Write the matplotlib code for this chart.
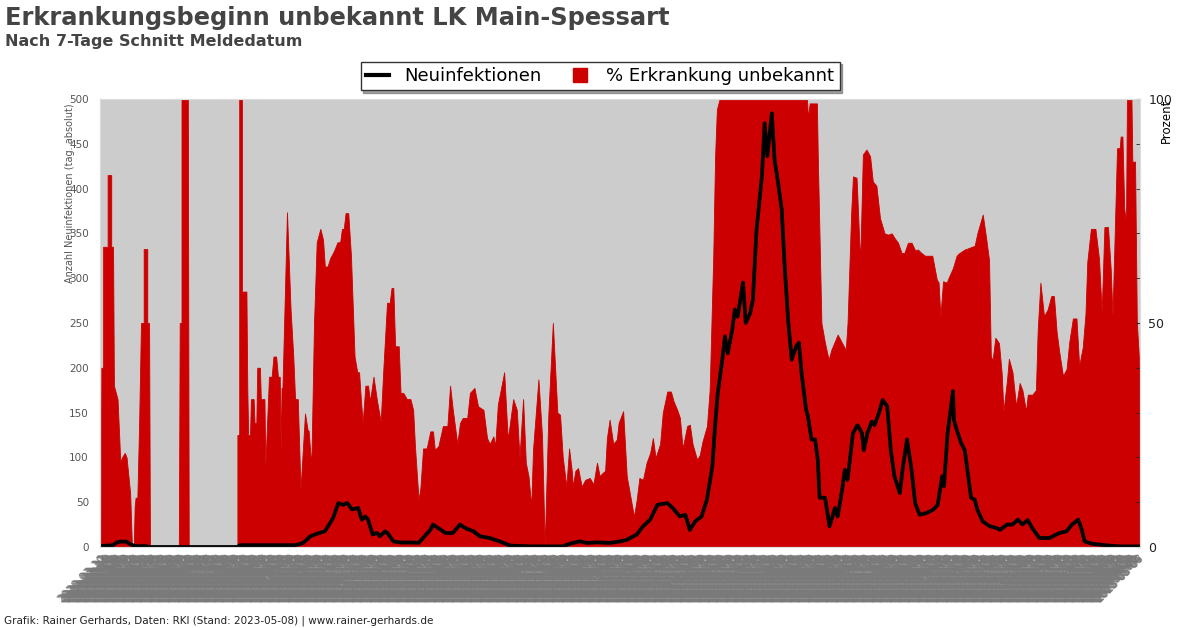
import pandas as pd
import matplotlib
matplotlib.use('Agg')
import matplotlib.pyplot as plt
from matplotlib.lines import Line2D

# Tage ab Startdatum
start = '2020-03-10'
n_days = 1154
dates = pd.date_range(start, periods=n_days).strftime('%Y-%m-%d')

# % Erkrankungsbeginn unbekannt (rechte Achse)
pct_day = [0, 1, 3, 3, 8, 8, 12, 12, 14, 15, 19, 21, 22, 24, 27, 29, 31, 33, 35,
           37, 38, 39, 41, 43, 45, 48, 48, 52, 52, 54, 55,
           87, 88, 90, 90, 97, 98,
           152, 152, 154, 154, 157, 157, 162, 163, 164, 166, 167, 170, 171, 173, 174,
           177, 178, 182, 183, 187, 190, 192, 195, 197, 199, 200, 201, 202, 207, 211,
           214, 216, 219, 222, 227, 230, 231, 234, 237, 240, 244, 247, 249, 252, 255,
           259, 263, 266, 268, 270, 272, 275, 278, 282, 285, 287, 289, 291, 294, 297,
           299, 303, 307, 311, 314, 318, 321, 323, 325, 327, 331, 333, 336, 340, 344,
           347, 349, 353, 355, 358, 362, 366, 369, 371, 375, 380, 385, 388, 391, 396,
           399, 402, 407, 410, 415, 419, 425, 429, 432, 436, 438, 441, 448, 452, 458,
           462, 465, 469, 472, 475, 478, 480, 486, 490, 493, 497, 502, 507, 510, 513,
           517, 520, 523, 524, 527, 530, 534, 538, 543, 547, 551, 554, 557, 560, 562,
           565, 569, 573, 575, 580, 584, 588, 592, 595, 598, 602, 606, 610, 613, 616,
           621, 624, 629, 633, 636, 640, 643, 646, 651, 654, 657, 662, 665, 668, 673,
           676, 680, 682, 684, 687, 784, 785, 787, 795, 796, 800, 804, 808, 811, 818,
           823, 827, 829, 833, 835, 839, 843, 846, 850, 854, 857, 861, 865, 870, 874,
           878, 881, 885, 889, 892, 896, 900, 904, 907, 911, 915, 923, 928, 930, 932,
           935, 939, 941, 946, 950, 953, 959, 962, 967, 970, 973, 979, 983, 986, 988,
           990, 993, 997, 1000, 1002, 1006, 1008, 1012, 1016, 1020, 1023, 1027, 1029,
           1034, 1038, 1040, 1043, 1047, 1051, 1055, 1058, 1061, 1064, 1068, 1072, 1075,
           1079, 1083, 1086, 1090, 1093, 1095, 1099, 1104, 1108, 1111, 1114, 1118, 1121,
           1123, 1125, 1128, 1131, 1132, 1134, 1136, 1138, 1139, 1144, 1145, 1148, 1150,
           1153]
pct_val = [0, 40, 40, 67, 67, 83, 83, 67, 67, 36, 33, 24, 19, 20, 21, 20, 16, 12, 0,
           0, 9, 11, 11, 28, 50, 50, 66.5, 66.5, 50, 50, 0,
           0, 50, 50, 100, 100, 0,
           0, 25, 25, 100, 100, 57, 57, 35, 25, 25, 33, 33, 27.7, 27.7, 40,
           40, 33, 33, 18, 38, 38, 42.5, 42.5, 38, 38, 21.7, 35.5, 35.5, 74.7, 53,
           42.5, 33, 33, 12.8, 29.8, 26, 26, 18, 50, 68, 71, 68.6, 62.6, 62.6, 64.5,
           66, 68, 68, 71, 71, 74.5, 74.5, 65, 42.5, 39, 39, 33, 27.7, 36, 36,
           32.5, 38, 32.5, 28, 40, 54.5, 54.5, 57.8, 57.8, 44.8, 44.8, 34.4, 34.4, 33, 33,
           30.6, 22.5, 10.6, 13, 22, 22, 25.8, 25.8, 21.7, 22.5, 27, 27, 36, 30.6, 23,
           27.7, 28.8, 28.8, 34.4, 35.5, 31.4, 30.6, 24.3, 23, 24.7, 22.5, 31.8, 39, 24, 33,
           30.6, 20, 33, 18.8, 15.8, 9, 21.7, 37.4, 24.7, 0, 29.5, 50, 30, 29.5, 20,
           13.5, 22, 17, 13.5, 17, 17.6, 13.5, 15, 15.4, 14, 18.8, 15.8, 16.5, 17, 24.3,
           28.4, 23, 24, 27.7, 30.3, 15.8, 11.3, 6.8, 10.5, 15.4, 15, 18.8, 21, 24.3, 19.9,
           23, 30, 34.7, 34.7, 32.5, 30.6, 28.8, 22, 27, 27.3, 23, 19.5, 20.5, 23.5, 27,
           35, 65, 87, 97.6, 100, 100, 95.8, 99, 99, 87, 50, 45.5, 41.8, 44, 47.4,
           45.5, 44, 50, 74.5, 82.7, 82.4, 63.4, 87.6, 88.7, 87.2, 81.6, 80.6, 73.4, 70, 69.7,
           70, 69, 67.9, 65.6, 65.6, 67.9, 67.9, 66.2, 66.4, 65.6, 65, 65, 59.7, 59, 51.5,
           59.3, 59, 60, 62.3, 65, 65.6, 66.4, 66.6, 67, 67.2, 70, 74.2, 68.6, 64, 42.5,
           41.8, 46.7, 45.5, 38.8, 30.3, 37.4, 42, 39, 31.4, 36.6, 35, 30.3, 34,
           34, 35, 48.5, 59, 51.5, 53, 56, 56, 48, 43.4, 38.2, 39.7, 45.7,
           51, 51, 40.4, 44.6, 52, 63.6, 71, 71, 64.3, 52.4, 71.4, 71.4, 62,
           51.6, 66.6, 89, 89, 91.6, 91.6, 75.5, 72.5, 100, 100, 86, 86, 50,
           40]

# Neuinfektionen, 7-Tage Schnitt (linke Achse)
inf_day = [0, 14, 18, 22, 29, 33, 39, 50, 55, 152, 155, 211, 216, 225, 233, 241, 249,
           255, 258, 264, 269, 274, 279, 286, 290, 294, 297, 302, 307, 310, 316, 319,
           325, 333, 347, 353, 358, 366, 369, 375, 383, 391, 399, 405, 414, 421, 432,
           443, 455, 477, 513, 521, 532, 540, 551, 565, 577, 584, 595, 602, 610, 618,
           629, 635, 643, 649, 654, 660, 667, 673, 679, 682, 685, 690, 693, 696, 701,
           704, 707, 713, 716, 721, 724, 728, 734, 737, 740, 745, 748, 752, 756, 759,
           763, 767, 772, 775, 778, 783, 785, 789, 793, 796, 798, 804, 809, 815, 818,
           823, 826, 829, 835, 840, 845, 847, 851, 856, 859, 864, 868, 873, 877, 881,
           887, 890, 895, 900, 904, 909, 917, 924, 929, 934, 936, 940, 946, 947, 950,
           955, 959, 962, 966, 970, 973, 979, 987, 995, 998, 1006, 1012, 1018, 1023,
           1029, 1034, 1042, 1053, 1064, 1072, 1078, 1085, 1089, 1092, 1100, 1109, 1120,
           1131, 1153]
inf_val = [1, 2, 5, 6, 6, 3, 1, 1, 0, 0, 2, 2, 2, 4.5, 12, 15, 17.5,
           27, 32, 49, 47, 49, 42, 43.5, 30.5, 34, 30.5, 14, 15.6, 12, 17.5, 15,
           6.3, 5, 5, 4.5, 10, 19, 25, 21, 15.6, 15.6, 25, 21, 17.5, 12, 10,
           6.3, 1.5, 0.7, 0.7, 3.7, 6.3, 4.5, 5.2, 4.5, 6.3, 8, 13.8, 23, 30.5, 47,
           49, 43.5, 34, 36, 19, 28.6, 34, 53, 90, 135, 172, 209, 235, 216, 242,
           265, 257, 295, 250, 261, 276, 354, 414, 473, 436, 484, 432, 406, 376, 317,
           254, 209, 224, 228, 194, 153, 146, 120, 120, 97, 55, 55, 23, 43.5, 34,
           64, 86, 75, 127, 136, 127, 108, 127, 140, 136, 150, 164, 157, 108, 79,
           60, 86, 120, 86, 49, 36, 38, 41.7, 47, 79, 68, 127, 174, 142, 131,
           116, 108, 86, 55, 53, 41.7, 28.6, 23, 21, 19, 25, 25, 30.5, 25,
           30, 21, 10, 10, 15.6, 17.5, 25, 30.5, 19, 6.3, 3.7, 2.6, 1.5,
           0.7, 0.7]

RED = '#cc0000'
GREY_TXT = '#555555'

fig = plt.figure(figsize=(12, 6.28), dpi=100)
ax = fig.add_axes([0.0833, 0.129, 0.8667, 0.7135])
ax2 = ax.twinx()
ax.set_zorder(ax2.get_zorder() + 1)
ax.patch.set_visible(False)
ax2.patch.set_visible(True)
ax2.set_facecolor('#cccccc')

ax2.fill_between(pct_day, pct_val, 0, color=RED, linewidth=0.6, edgecolor=RED)
ax.plot(inf_day, inf_val, color='black', linewidth=2.7)

ax.set_xlim(-0.5, n_days - 0.5)
ax.set_ylim(0, 500)
ax2.set_ylim(0, 100)

ax.set_yticks(range(0, 501, 50))
ax.tick_params(axis='y', length=0, pad=8, labelsize=7.5, labelcolor=GREY_TXT)
ax.set_ylabel('Anzahl Neuinfektionen (tag. absolut)', fontsize=7, color=GREY_TXT, loc='top')
ax.yaxis.set_label_coords(-0.024, 0.99)

ax2.set_yticks([0, 50, 100])
ax2.set_yticks(range(0, 101, 10), minor=True)
ax2.tick_params(axis='y', which='both', direction='in', length=3, pad=6,
                labelsize=9, labelcolor='#222222', color='#222222')
ax2.set_ylabel('Prozent', fontsize=8.5, loc='top')
ax2.yaxis.set_label_coords(1.019, 1.0)

# jedes Datum beschriftet
ax.set_xticks(range(n_days))
ax.set_xticklabels(dates, rotation=45, ha='right', rotation_mode='anchor',
                   fontsize=7.8, color='#7a7a7a')
ax.tick_params(axis='x', length=0, pad=4)

for a in (ax, ax2):
    for s in a.spines.values():
        s.set_color('#dddddd')

handles = [Line2D([], [], color='black', linewidth=3),
           Line2D([], [], color=RED, marker='s', linestyle='none', markersize=10)]
fig.legend(handles, ['Neuinfektionen', '% Erkrankung unbekannt'], loc='center',
           bbox_to_anchor=(0.5, 0.879), ncol=2, fontsize=13, frameon=True,
           fancybox=False, shadow=True, edgecolor='#333333', handlelength=1.3,
           columnspacing=1.5, borderpad=0.3)

fig.text(0.004, 0.960, 'Erkrankungsbeginn unbekannt LK Main-Spessart',
         fontsize=17.4, fontweight='bold', color='#444444')
fig.text(0.004, 0.927, 'Nach 7-Tage Schnitt Meldedatum',
         fontsize=11.5, fontweight='bold', color='#444444')
fig.text(0.003, 0.007,
         'Grafik: Rainer Gerhards, Daten: RKI (Stand: 2023-05-08) | www.rainer-gerhards.de',
         fontsize=7.5, color='#222222')

fig.savefig('out.png', dpi=100)
